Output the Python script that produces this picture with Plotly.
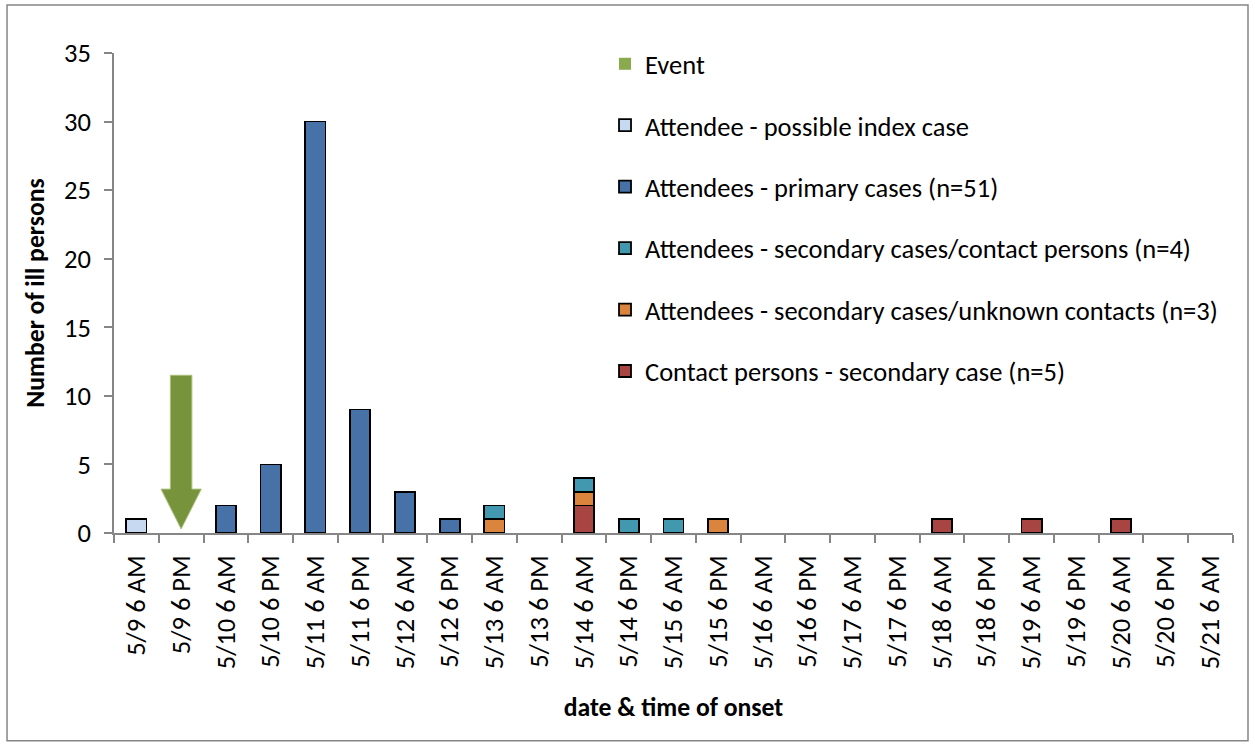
import plotly.graph_objects as go

categories = ["5/9 6 AM", "5/9 6 PM", "5/10 6 AM", "5/10 6 PM", "5/11 6 AM", "5/11 6 PM",
              "5/12 6 AM", "5/12 6 PM", "5/13 6 AM", "5/13 6 PM", "5/14 6 AM", "5/14 6 PM",
              "5/15 6 AM", "5/15 6 PM", "5/16 6 AM", "5/16 6 PM", "5/17 6 AM", "5/17 6 PM",
              "5/18 6 AM", "5/18 6 PM", "5/19 6 AM", "5/19 6 PM", "5/20 6 AM", "5/20 6 PM",
              "5/21 6 AM"]

index_case = [1, 0, 0, 0, 0, 0, 0, 0, 0, 0, 0, 0, 0, 0, 0, 0, 0, 0, 0, 0, 0, 0, 0, 0, 0]
primary = [0, 0, 2, 5, 30, 9, 3, 1, 0, 0, 0, 0, 0, 0, 0, 0, 0, 0, 0, 0, 0, 0, 0, 0, 0]
sec_contact = [0, 0, 0, 0, 0, 0, 0, 0, 1, 0, 1, 1, 1, 0, 0, 0, 0, 0, 0, 0, 0, 0, 0, 0, 0]
sec_unknown = [0, 0, 0, 0, 0, 0, 0, 0, 1, 0, 1, 0, 0, 1, 0, 0, 0, 0, 0, 0, 0, 0, 0, 0, 0]
contact_sec = [0, 0, 0, 0, 0, 0, 0, 0, 0, 0, 2, 0, 0, 0, 0, 0, 0, 0, 1, 0, 1, 0, 1, 0, 0]

event_category = "5/9 6 PM"
event_arrow_top = 11.5

FONT = "Calibri, Carlito, Lato, sans-serif"
FS = 26.5
GRID = "#868686"


def nz(vals):
    return [v if v else None for v in vals]


fig = go.Figure()

# stacking order: first trace at bottom
series = [
    ("Contact persons - secondary case (n=5)", contact_sec, "#A84542", 6),
    ("Attendees - secondary cases/unknown contacts (n=3)", sec_unknown, "#DB843D", 5),
    ("Attendees - secondary cases/contact persons (n=4)", sec_contact, "#4198AF", 4),
    ("Attendees - primary cases (n=51)", primary, "#4672A8", 3),
    ("Attendee - possible index case", index_case, "#C6D9F1", 2),
]
for name, vals, color, rank in series:
    fig.add_trace(go.Bar(
        x=categories, y=nz(vals), name=name,
        marker=dict(color=color, line=dict(color="black", width=1.8)),
        legendrank=rank, legendgroup=name,
    ))

fig.add_trace(go.Bar(
    x=[categories[0]], y=[None], name="Event",
    marker=dict(color="#8AAA4E", line=dict(width=0)),
    legendrank=1, legendgroup="Event",
))

# event arrow, in data coordinates derived from the event category
cx = categories.index(event_category)
shaft_hw, head_hw = 0.24, 0.45
head_top, tip = 3.2, 0.3
path = (f"M {cx - shaft_hw} {event_arrow_top} L {cx + shaft_hw} {event_arrow_top} "
        f"L {cx + shaft_hw} {head_top} L {cx + head_hw} {head_top} L {cx} {tip} "
        f"L {cx - head_hw} {head_top} L {cx - shaft_hw} {head_top} Z")
fig.add_shape(type="path", xref="x", yref="y", path=path,
              fillcolor="#77933C", line=dict(color="#A9C07A", width=1), layer="above")

# outer chart border
fig.add_shape(type="rect", xref="paper", yref="paper",
              x0=-0.0956, x1=1.0134, y0=-0.433, y1=1.1,
              line=dict(color=GRID, width=1.5), fillcolor="rgba(0,0,0,0)")

fig.update_layout(
    width=1255, height=747,
    margin=dict(l=114, r=22, t=53, b=214, autoexpand=False),
    paper_bgcolor="white", plot_bgcolor="white",
    barmode="stack", bargap=0.55,
    font=dict(family=FONT, color="black", size=FS),
    showlegend=True,
    legend=dict(x=0.4388, y=1.027, xanchor="left", yanchor="top",
                traceorder="grouped", tracegroupgap=24,
                font=dict(size=FS, family=FONT, color="black"), bgcolor="rgba(0,0,0,0)"),
    xaxis=dict(
        type="category", tickangle=-90, tickson="boundaries", ticks="outside",
        ticklen=8, tickcolor=GRID, tickwidth=1.5, showline=True, linecolor=GRID,
        linewidth=1.5, showgrid=False, tickfont=dict(size=FS), ticklabelstandoff=10,
        title=dict(text="<b>date & time of onset</b>", font=dict(size=FS * 0.97), standoff=30),
    ),
    yaxis=dict(
        range=[0, 35], dtick=5, ticks="outside", ticklen=8, tickcolor=GRID, tickwidth=1.5,
        showline=True, linecolor=GRID, linewidth=1.5, showgrid=False, zeroline=False,
        tickfont=dict(size=FS), ticklabelstandoff=8,
        title=dict(text="<b>Number of ill persons</b>", font=dict(size=FS * 0.97), standoff=12),
    ),
)

fig.write_html("out.html", config={"displayModeBar": False},
               post_script="document.body.style.margin='0';")
